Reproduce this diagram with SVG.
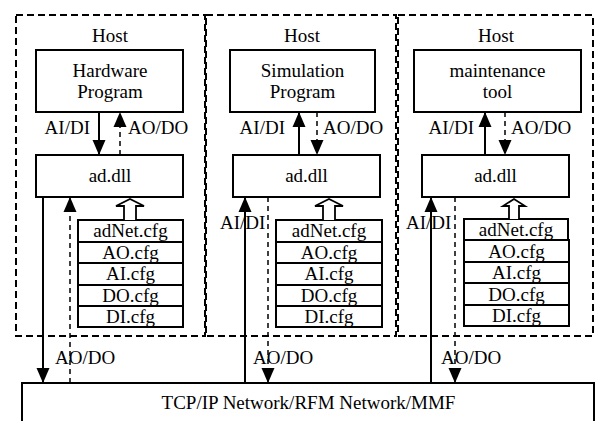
<svg xmlns="http://www.w3.org/2000/svg" width="596" height="421" viewBox="0 0 596 421">
<defs>
<style>
.t{font-family:"Liberation Serif","Times New Roman",serif;font-size:19px;fill:#000}
.m{text-anchor:middle}
.e{text-anchor:end}
.host{fill:none;stroke:#000;stroke-width:2;stroke-dasharray:7 4}
.box{fill:#fff;stroke:#000;stroke-width:2}
.cfg{fill:#fff;stroke:#000;stroke-width:2}
.sl{stroke:#000;stroke-width:2;fill:none}
.dl{stroke:#000;stroke-width:1.5;fill:none;stroke-dasharray:5 4}
.hol{fill:#fff;stroke:#000;stroke-width:1.8}
</style>
<marker id="ah" markerUnits="userSpaceOnUse" markerWidth="15" markerHeight="14" refX="15" refY="7" orient="auto">
<path d="M0,0.5 L15,7 L0,13.5 z" fill="#000"/>
</marker>
</defs>
<rect x="0" y="0" width="596" height="421" fill="#fff"/>

<g id="host1">
<rect class="host" x="16" y="15" width="189" height="321"/>
<text class="t m" x="110" y="42">Host</text>
</g>
<g id="host2">
<rect class="host" x="206" y="15" width="190" height="321"/>
<text class="t m" x="302" y="42">Host</text>
</g>
<g id="host3">
<rect class="host" x="398" y="15" width="195" height="321"/>
<text class="t m" x="496" y="42">Host</text>
</g>

<g id="hardware">
<rect class="box" x="36" y="50" width="147" height="62"/>
<text class="t m" x="110" y="77">Hardware</text>
<text class="t m" x="110" y="98">Program</text>
</g>
<g id="addll1">
<rect class="box" x="36" y="155" width="147" height="42"/>
<text class="t m" x="110" y="182">ad.dll</text>
</g>
<g id="cfg1">
<rect class="cfg" x="78" y="220" width="105" height="22"/>
<rect class="cfg" x="78" y="242" width="105" height="21"/>
<rect class="cfg" x="78" y="263" width="105" height="22"/>
<rect class="cfg" x="78" y="285" width="105" height="21"/>
<rect class="cfg" x="78" y="306" width="105" height="21"/>
<text class="t m" x="130.5" y="237">adNet.cfg</text>
<text class="t m" x="130.5" y="259">AO.cfg</text>
<text class="t m" x="130.5" y="280">AI.cfg</text>
<text class="t m" x="130.5" y="302">DO.cfg</text>
<text class="t m" x="130.5" y="323">DI.cfg</text>
</g>

<g id="simulation">
<rect class="box" x="230" y="50" width="145" height="62"/>
<text class="t m" x="302.5" y="77">Simulation</text>
<text class="t m" x="302.5" y="98">Program</text>
</g>
<g id="addll2">
<rect class="box" x="233" y="155" width="147" height="42"/>
<text class="t m" x="306.5" y="182">ad.dll</text>
</g>
<g id="cfg2">
<rect class="cfg" x="276" y="220" width="106" height="22"/>
<rect class="cfg" x="276" y="242" width="106" height="21"/>
<rect class="cfg" x="276" y="263" width="106" height="22"/>
<rect class="cfg" x="276" y="285" width="106" height="21"/>
<rect class="cfg" x="276" y="306" width="106" height="21"/>
<text class="t m" x="329" y="237">adNet.cfg</text>
<text class="t m" x="329" y="259">AO.cfg</text>
<text class="t m" x="329" y="280">AI.cfg</text>
<text class="t m" x="329" y="302">DO.cfg</text>
<text class="t m" x="329" y="323">DI.cfg</text>
</g>

<g id="maintenance">
<rect class="box" x="414" y="50" width="167" height="62"/>
<text class="t m" x="497.5" y="77">maintenance</text>
<text class="t m" x="497.5" y="98">tool</text>
</g>
<g id="addll3">
<rect class="box" x="422" y="155" width="147" height="42"/>
<text class="t m" x="495.5" y="182">ad.dll</text>
</g>
<g id="cfg3">
<rect class="cfg" x="464" y="219" width="104" height="21"/>
<rect class="cfg" x="464" y="240" width="105" height="22"/>
<rect class="cfg" x="464" y="262" width="105" height="21"/>
<rect class="cfg" x="464" y="283" width="105" height="22"/>
<rect class="cfg" x="464" y="305" width="105" height="21"/>
<text class="t m" x="516" y="236">adNet.cfg</text>
<text class="t m" x="516.5" y="258">AO.cfg</text>
<text class="t m" x="516.5" y="279">AI.cfg</text>
<text class="t m" x="516.5" y="301">DO.cfg</text>
<text class="t m" x="516.5" y="322">DI.cfg</text>
</g>

<g id="network">
<rect class="box" x="22" y="383" width="572" height="60"/>
<text class="t m" x="308.5" y="409">TCP/IP Network/RFM Network/MMF</text>
</g>

<g id="connectors">
<!-- host 1 -->
<line class="sl" x1="99" y1="112" x2="99" y2="155" marker-end="url(#ah)"/>
<line class="dl" x1="120" y1="155" x2="120" y2="112" marker-end="url(#ah)"/>
<text class="t e" x="90" y="134">AI/DI</text>
<text class="t" x="128" y="134">AO/DO</text>
<path class="hol" d="M124,220 L124,206 L116,206 L130,199 L144,206 L136,206 L136,220"/>
<line class="sl" x1="43" y1="197" x2="43" y2="383" marker-end="url(#ah)"/>
<line class="dl" x1="70" y1="383" x2="70" y2="197" marker-end="url(#ah)"/>
<text class="t" x="55" y="364">AO/DO</text>
<!-- host 2 -->
<line class="sl" x1="299" y1="155" x2="299" y2="112" marker-end="url(#ah)"/>
<line class="dl" x1="317" y1="112" x2="317" y2="155" marker-end="url(#ah)"/>
<text class="t e" x="285" y="134">AI/DI</text>
<text class="t" x="323" y="134">AO/DO</text>
<path class="hol" d="M323,220 L323,206 L315,206 L329,199 L343,206 L335,206 L335,220"/>
<line class="sl" x1="245" y1="383" x2="245" y2="197" marker-end="url(#ah)"/>
<line class="dl" x1="268" y1="197" x2="268" y2="383" marker-end="url(#ah)"/>
<text class="t" x="220" y="229">AI/DI</text>
<text class="t" x="253" y="364">AO/DO</text>
<!-- host 3 -->
<line class="sl" x1="485" y1="155" x2="485" y2="112" marker-end="url(#ah)"/>
<line class="dl" x1="505" y1="112" x2="505" y2="155" marker-end="url(#ah)"/>
<text class="t e" x="474" y="134">AI/DI</text>
<text class="t" x="511" y="134">AO/DO</text>
<path class="hol" d="M509,219 L509,206 L503,206 L514,199 L525,206 L519,206 L519,219"/>
<line class="sl" x1="431" y1="383" x2="431" y2="197" marker-end="url(#ah)"/>
<line class="dl" x1="455" y1="197" x2="455" y2="383" marker-end="url(#ah)"/>
<text class="t" x="406" y="229">AI/DI</text>
<text class="t" x="441" y="364">AO/DO</text>
</g>
</svg>
